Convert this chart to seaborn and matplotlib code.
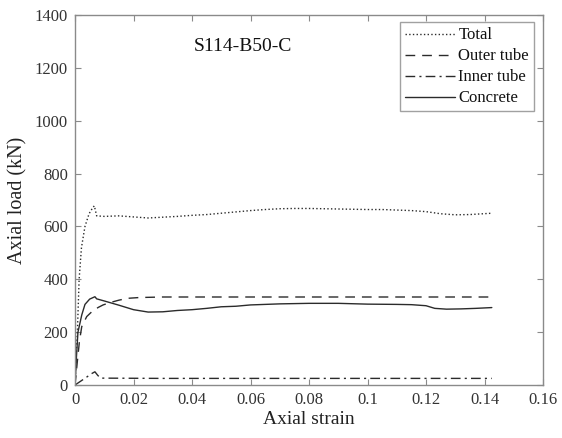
import numpy as np
import pandas as pd
import seaborn as sns
import matplotlib
matplotlib.use("Agg")
import matplotlib.pyplot as plt

# Axial load-strain components of specimen S114-B50-C
total_strain = [0.0, 0.0004, 0.0008, 0.0014, 0.0022, 0.0034, 0.0048, 0.0060, 0.0066,
                0.0074, 0.010, 0.015, 0.020, 0.025, 0.030, 0.035, 0.040, 0.045, 0.050,
                0.055, 0.060, 0.065, 0.070, 0.075, 0.080, 0.085, 0.090, 0.095, 0.100,
                0.105, 0.110, 0.115, 0.120, 0.125, 0.130, 0.135, 0.1425]
total_load = [0, 110, 200, 400, 520, 600, 648, 670, 678,
              640, 638, 640, 636, 632, 635, 638, 642, 645, 650,
              655, 660, 664, 667, 668, 668, 667, 666, 665, 664,
              664, 662, 660, 656, 648, 644, 645, 650]

outer_strain = [0.0, 0.0008, 0.0015, 0.0023, 0.004, 0.006, 0.008, 0.0096, 0.012,
                0.015, 0.018, 0.022, 0.026, 0.030, 0.040, 0.060, 0.080, 0.100,
                0.120, 0.1425]
outer_load = [0, 90, 165, 221, 259, 280, 294, 303, 312,
              321, 328, 331, 332, 333, 333, 333, 333, 333,
              333, 333]

inner_strain = [0.0, 0.002, 0.004, 0.0055, 0.0068, 0.0078, 0.0088, 0.030, 0.060,
                0.090, 0.120, 0.1425]
inner_load = [0, 15, 30, 42, 50, 36, 26, 25, 25,
              25, 25, 25]

concrete_strain = [0.0, 0.0005, 0.001, 0.0023, 0.0034, 0.005, 0.006, 0.0068,
                   0.0074, 0.010, 0.015, 0.020, 0.025, 0.030, 0.035, 0.040, 0.045,
                   0.050, 0.055, 0.060, 0.065, 0.070, 0.080, 0.090, 0.100, 0.110,
                   0.115, 0.120, 0.123, 0.127, 0.132, 0.137, 0.1425]
concrete_load = [0, 110, 200, 265, 305, 325, 330, 334,
                 326, 318, 302, 285, 276, 277, 282, 285, 290,
                 296, 298, 303, 305, 307, 309, 309, 306, 305,
                 304, 300, 290, 287, 288, 290, 293]

series = {
    "Total": (total_strain, total_load, ":"),
    "Outer tube": (outer_strain, outer_load, (0, (7, 5))),
    "Inner tube": (inner_strain, inner_load, (0, (7, 3, 1.5, 3))),
    "Concrete": (concrete_strain, concrete_load, "-"),
}

x_ticks = [0, 0.02, 0.04, 0.06, 0.08, 0.1, 0.12, 0.14, 0.16]
x_tick_labels = ["0", "0.02", "0.04", "0.06", "0.08", "0.1", "0.12", "0.14", "0.16"]
y_ticks = [0, 200, 400, 600, 800, 1000, 1200, 1400]

sns.set_theme(style="white")
plt.rcParams["font.family"] = ["Liberation Serif", "DejaVu Serif"]

fig = plt.figure(figsize=(5.62, 4.38), dpi=100)
ax = fig.add_axes([0.1335, 0.121, 0.8327, 0.8447])

line_color = "#2b2b2b"
for name, (xs, ys, ls) in series.items():
    df = pd.DataFrame({"strain": xs, "load": ys})
    sns.lineplot(data=df, x="strain", y="load", ax=ax, color=line_color,
                 linestyle=ls, linewidth=1.0, label=name, sort=False,
                 estimator=None)

ax.set_xlim(0, 0.16)
ax.set_ylim(0, 1400)
ax.set_xticks(x_ticks)
ax.set_xticklabels(x_tick_labels)
ax.set_yticks(y_ticks)

spine_color = "#8a8a8a"
for sp in ax.spines.values():
    sp.set_visible(True)
    sp.set_color(spine_color)
    sp.set_linewidth(1.0)

ax.tick_params(axis="both", direction="in", length=4, width=0.8,
               colors=spine_color, labelcolor="#333333", labelsize=12,
               top=True, right=True, bottom=True, left=True, pad=5)

ax.set_xlabel("Axial strain", fontsize=14, color="#222222", labelpad=2)
ax.set_ylabel("Axial load (kN)", fontsize=14.5, color="#222222", labelpad=5)

ax.text(0.0573, 1280, "S114-B50-C", fontsize=14, color="#111111",
        ha="center", va="center")

leg = ax.legend(loc="upper right", bbox_to_anchor=(0.981, 0.980), fontsize=12,
                frameon=True, fancybox=False, handlelength=3.0,
                handletextpad=0.2, borderpad=0.3, labelspacing=0.3,
                borderaxespad=0.0)
leg.get_frame().set_edgecolor(spine_color)
leg.get_frame().set_linewidth(1.0)
for t in leg.get_texts():
    t.set_color("#111111")

fig.savefig("out.png", dpi=100, facecolor="white")
